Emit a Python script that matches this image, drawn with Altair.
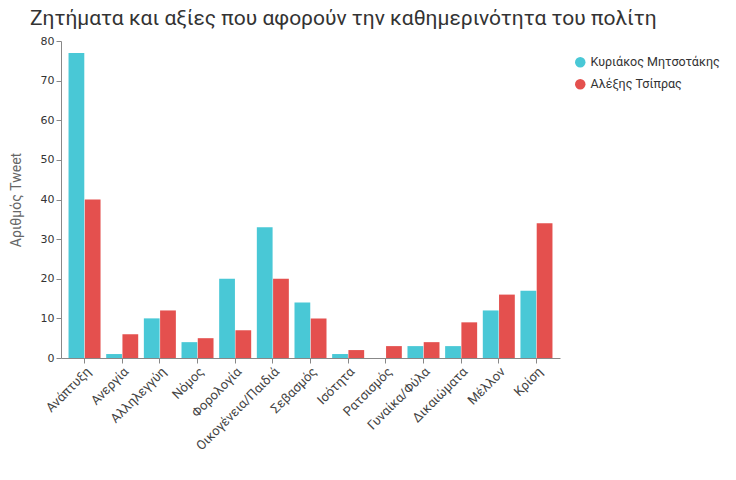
import altair as alt
import pandas as pd

categories = ["Ανάπτυξη", "Ανεργία", "Αλληλεγγύη", "Νόμος", "Φορολογία",
              "Οικογένεια/Παιδιά", "Σεβασμός", "Ισότητα", "Ρατσισμός",
              "Γυναίκα/Φύλα", "Δικαιώματα", "Μέλλον", "Κρίση"]
series = ["Κυριάκος Μητσοτάκης", "Αλέξης Τσίπρας"]
mitsotakis = [77, 1, 10, 4, 20, 33, 14, 1, 0, 3, 3, 12, 17]
tsipras = [40, 6, 12, 5, 7, 20, 10, 2, 3, 4, 9, 16, 34]
colors = ["#49c8d6", "#e4504e"]

rows = []
for c, m, t in zip(categories, mitsotakis, tsipras):
    rows.append({"cat": c, "who": series[0], "val": m})
    rows.append({"cat": c, "who": series[1], "val": t})
df = pd.DataFrame(rows)

FONT = "Roboto"

chart = alt.Chart(df).mark_bar().encode(
    x=alt.X("cat:N", sort=categories, title=None,
            scale=alt.Scale(paddingInner=0.15, paddingOuter=0.2),
            axis=alt.Axis(labelAngle=-45, labelAlign="right", labelBaseline="top",
                          labelFontSize=13, labelColor="#444", labelFont=FONT,
                          domainColor="#888", tickColor="#888", tickSize=5,
                          labelPadding=2)),
    xOffset=alt.XOffset("who:N", sort=series, scale=alt.Scale(paddingInner=0.03)),
    y=alt.Y("val:Q", title="Αριθμός Tweet",
            scale=alt.Scale(domain=[0, 80]),
            axis=alt.Axis(values=[0, 10, 20, 30, 40, 50, 60, 70, 80], grid=False,
                          labelFontSize=11, labelColor="#333", labelFont="DejaVu Sans",
                          domainColor="#888", tickColor="#888", tickSize=5,
                          titleFontSize=14, titleFontWeight="normal", titleColor="#666",
                          titleFont=FONT, titlePadding=17)),
    color=alt.Color("who:N", sort=series, title=None,
                    scale=alt.Scale(domain=series, range=colors),
                    legend=alt.Legend(orient="none", legendX=513, legendY=15,
                                      symbolType="circle", symbolSize=110,
                                      labelFontSize=12.5, labelColor="#333",
                                      labelFont=FONT, rowPadding=9)),
).properties(
    width=499, height=317,
    autosize=alt.AutoSizeParams(type="none"),
    padding={"left": 53, "top": 33, "right": 168, "bottom": 114},
    title=alt.TitleParams("Ζητήματα και αξίες που αφορούν την καθημερινότητα του πολίτη",
                          anchor="start", frame="group", dx=-31, offset=6,
                          fontSize=21, fontWeight="normal", color="#333", font=FONT),
).configure_view(stroke=None)

chart.save("out.html", embed_options={"renderer": "svg", "actions": False})
